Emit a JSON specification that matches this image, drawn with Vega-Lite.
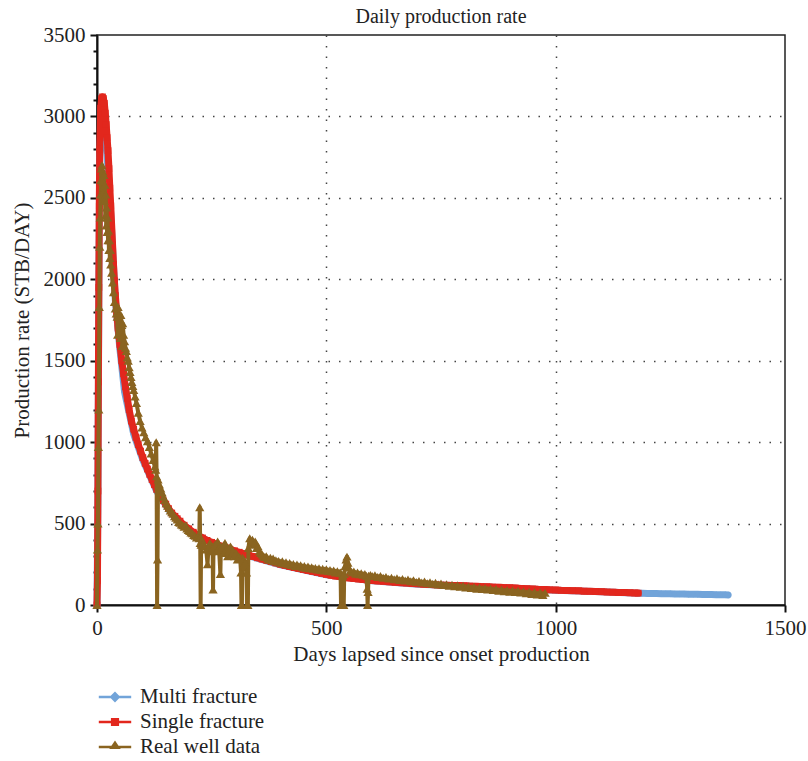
{
  "$schema": "https://vega.github.io/schema/vega-lite/v6.json",
  "width": 688,
  "height": 570,
  "autosize": {"type": "none"},
  "padding": {"left": 97, "top": 35, "right": 23, "bottom": 156},
  "title": {"text": "Daily production rate", "fontSize": 20, "fontWeight": "normal", "font": "Liberation Serif", "color": "#222", "offset": -3, "frame": "group"},
  "config": {
    "font": "Liberation Serif",
    "view": {"stroke": "#222", "strokeWidth": 1.5},
    "axis": {
      "domainColor": "#111", "domainWidth": 2,
      "tickColor": "#111", "tickWidth": 2,
      "labelFont": "Liberation Serif", "labelFontSize": 21, "labelColor": "#222",
      "titleFont": "Liberation Serif", "titleFontSize": 21, "titleFontWeight": "normal", "titleColor": "#222",
      "gridColor": "#444", "gridWidth": 1.5, "gridDash": [1.5, 9]
    }
  },
  "datasets": {
    "multi": [
      {"day": 0, "rate": 0}, {"day": 2, "rate": 650}, {"day": 4, "rate": 1900}, {"day": 6, "rate": 2750},
      {"day": 10, "rate": 3050}, {"day": 15, "rate": 3050}, {"day": 20, "rate": 2900}, {"day": 25, "rate": 2600},
      {"day": 30, "rate": 2400}, {"day": 40, "rate": 1870}, {"day": 50, "rate": 1570}, {"day": 60, "rate": 1310},
      {"day": 80, "rate": 1050}, {"day": 100, "rate": 890}, {"day": 130, "rate": 700}, {"day": 160, "rate": 570},
      {"day": 200, "rate": 460}, {"day": 250, "rate": 380}, {"day": 300, "rate": 328}, {"day": 400, "rate": 246},
      {"day": 500, "rate": 185}, {"day": 600, "rate": 149}, {"day": 700, "rate": 127}, {"day": 800, "rate": 116},
      {"day": 900, "rate": 104}, {"day": 1000, "rate": 91}, {"day": 1100, "rate": 81}, {"day": 1180, "rate": 72},
      {"day": 1190, "rate": 71.5}, {"day": 1200, "rate": 71}, {"day": 1210, "rate": 70.5}, {"day": 1220, "rate": 70},
      {"day": 1230, "rate": 69.5}, {"day": 1240, "rate": 69}, {"day": 1250, "rate": 68.5}, {"day": 1260, "rate": 68},
      {"day": 1270, "rate": 67.5}, {"day": 1280, "rate": 67}, {"day": 1290, "rate": 66.5}, {"day": 1300, "rate": 66},
      {"day": 1310, "rate": 65.5}, {"day": 1320, "rate": 65}, {"day": 1330, "rate": 64.5}, {"day": 1340, "rate": 64},
      {"day": 1350, "rate": 63.5}, {"day": 1360, "rate": 63}, {"day": 1370, "rate": 62.5}, {"day": 1376, "rate": 62}
    ],
    "single": [
      {"day": 0, "rate": 0}, {"day": 1, "rate": 150}, {"day": 2, "rate": 700}, {"day": 3, "rate": 1370},
      {"day": 4, "rate": 1950}, {"day": 5, "rate": 2450}, {"day": 6, "rate": 2800}, {"day": 8, "rate": 3050},
      {"day": 10, "rate": 3110}, {"day": 12, "rate": 3120}, {"day": 14, "rate": 3110}, {"day": 16, "rate": 3080},
      {"day": 18, "rate": 3020}, {"day": 20, "rate": 2950}, {"day": 22, "rate": 2870}, {"day": 24, "rate": 2790},
      {"day": 26, "rate": 2680}, {"day": 28, "rate": 2560}, {"day": 30, "rate": 2450}, {"day": 32, "rate": 2330},
      {"day": 34, "rate": 2210}, {"day": 36, "rate": 2090}, {"day": 38, "rate": 1990}, {"day": 40, "rate": 1900},
      {"day": 43, "rate": 1800}, {"day": 46, "rate": 1700}, {"day": 50, "rate": 1600}, {"day": 54, "rate": 1500},
      {"day": 58, "rate": 1420}, {"day": 62, "rate": 1340}, {"day": 66, "rate": 1270}, {"day": 70, "rate": 1200},
      {"day": 75, "rate": 1130}, {"day": 80, "rate": 1080}, {"day": 85, "rate": 1030}, {"day": 90, "rate": 985},
      {"day": 95, "rate": 945}, {"day": 100, "rate": 905}, {"day": 105, "rate": 870}, {"day": 110, "rate": 835},
      {"day": 115, "rate": 802}, {"day": 120, "rate": 770}, {"day": 125, "rate": 740}, {"day": 130, "rate": 710},
      {"day": 135, "rate": 684}, {"day": 140, "rate": 660}, {"day": 145, "rate": 640}, {"day": 150, "rate": 620},
      {"day": 156, "rate": 592}, {"day": 163, "rate": 565}, {"day": 170, "rate": 545}, {"day": 175, "rate": 530},
      {"day": 181, "rate": 515}, {"day": 190, "rate": 490}, {"day": 200, "rate": 468}, {"day": 210, "rate": 447},
      {"day": 220, "rate": 428}, {"day": 230, "rate": 412}, {"day": 240, "rate": 397}, {"day": 250, "rate": 385},
      {"day": 260, "rate": 373}, {"day": 270, "rate": 362}, {"day": 280, "rate": 352}, {"day": 290, "rate": 342},
      {"day": 300, "rate": 333}, {"day": 310, "rate": 324}, {"day": 320, "rate": 315}, {"day": 330, "rate": 306},
      {"day": 340, "rate": 298}, {"day": 350, "rate": 290}, {"day": 360, "rate": 282}, {"day": 370, "rate": 274},
      {"day": 380, "rate": 266}, {"day": 390, "rate": 258}, {"day": 400, "rate": 250}, {"day": 410, "rate": 243},
      {"day": 420, "rate": 236}, {"day": 430, "rate": 230}, {"day": 440, "rate": 224}, {"day": 450, "rate": 218},
      {"day": 460, "rate": 212}, {"day": 470, "rate": 206}, {"day": 480, "rate": 200}, {"day": 490, "rate": 194},
      {"day": 500, "rate": 188}, {"day": 510, "rate": 183}, {"day": 520, "rate": 178}, {"day": 530, "rate": 174},
      {"day": 540, "rate": 170}, {"day": 550, "rate": 166}, {"day": 560, "rate": 163}, {"day": 570, "rate": 160},
      {"day": 580, "rate": 157}, {"day": 590, "rate": 154}, {"day": 600, "rate": 151}, {"day": 612, "rate": 148},
      {"day": 625, "rate": 145}, {"day": 637, "rate": 142}, {"day": 650, "rate": 139}, {"day": 662, "rate": 137},
      {"day": 675, "rate": 135}, {"day": 687, "rate": 132}, {"day": 700, "rate": 130}, {"day": 712, "rate": 128},
      {"day": 725, "rate": 126}, {"day": 737, "rate": 124}, {"day": 750, "rate": 122}, {"day": 762, "rate": 121},
      {"day": 775, "rate": 120}, {"day": 787, "rate": 119}, {"day": 800, "rate": 118}, {"day": 812, "rate": 116},
      {"day": 825, "rate": 115}, {"day": 837, "rate": 113}, {"day": 850, "rate": 112}, {"day": 862, "rate": 110},
      {"day": 875, "rate": 109}, {"day": 887, "rate": 107}, {"day": 900, "rate": 106}, {"day": 912, "rate": 104},
      {"day": 925, "rate": 102}, {"day": 937, "rate": 100}, {"day": 950, "rate": 98}, {"day": 962, "rate": 96},
      {"day": 975, "rate": 95}, {"day": 987, "rate": 93}, {"day": 1000, "rate": 92}, {"day": 1012, "rate": 90},
      {"day": 1025, "rate": 89}, {"day": 1037, "rate": 88}, {"day": 1050, "rate": 87}, {"day": 1062, "rate": 85},
      {"day": 1075, "rate": 84}, {"day": 1087, "rate": 83}, {"day": 1100, "rate": 82}, {"day": 1112, "rate": 80},
      {"day": 1125, "rate": 79}, {"day": 1137, "rate": 77}, {"day": 1150, "rate": 76}, {"day": 1162, "rate": 75},
      {"day": 1172, "rate": 74}, {"day": 1180, "rate": 73}
    ],
    "well": [
      {"day": 0, "rate": 0}, {"day": 1, "rate": 340}, {"day": 2, "rate": 500}, {"day": 3, "rate": 970},
      {"day": 4, "rate": 1200}, {"day": 5, "rate": 1830}, {"day": 6, "rate": 2200}, {"day": 7, "rate": 2380},
      {"day": 8, "rate": 2520}, {"day": 9, "rate": 2610}, {"day": 10, "rate": 2680}, {"day": 11, "rate": 2700},
      {"day": 12, "rate": 2600}, {"day": 13, "rate": 2660}, {"day": 14, "rate": 2540}, {"day": 15, "rate": 2640},
      {"day": 16, "rate": 2480}, {"day": 17, "rate": 2580}, {"day": 18, "rate": 2390}, {"day": 19, "rate": 2520},
      {"day": 20, "rate": 2330}, {"day": 21, "rate": 2440}, {"day": 22, "rate": 2290}, {"day": 23, "rate": 2380},
      {"day": 24, "rate": 2240}, {"day": 25, "rate": 2300}, {"day": 26, "rate": 2180}, {"day": 27, "rate": 2240},
      {"day": 28, "rate": 2130}, {"day": 29, "rate": 2180}, {"day": 30, "rate": 2090}, {"day": 32, "rate": 2040},
      {"day": 34, "rate": 1980}, {"day": 36, "rate": 1920}, {"day": 38, "rate": 1860}, {"day": 40, "rate": 1820},
      {"day": 42, "rate": 1790}, {"day": 44, "rate": 1770}, {"day": 45, "rate": 1660}, {"day": 46, "rate": 1830},
      {"day": 48, "rate": 1780}, {"day": 50, "rate": 1740}, {"day": 51, "rate": 1640}, {"day": 52, "rate": 1780},
      {"day": 54, "rate": 1720}, {"day": 55, "rate": 1590}, {"day": 56, "rate": 1730}, {"day": 58, "rate": 1660},
      {"day": 60, "rate": 1620}, {"day": 62, "rate": 1580}, {"day": 64, "rate": 1560}, {"day": 66, "rate": 1520},
      {"day": 68, "rate": 1500}, {"day": 70, "rate": 1460}, {"day": 72, "rate": 1430}, {"day": 74, "rate": 1400},
      {"day": 76, "rate": 1370}, {"day": 78, "rate": 1345}, {"day": 80, "rate": 1320}, {"day": 83, "rate": 1280},
      {"day": 86, "rate": 1240}, {"day": 90, "rate": 1180}, {"day": 94, "rate": 1130}, {"day": 98, "rate": 1090},
      {"day": 102, "rate": 1060}, {"day": 106, "rate": 1030}, {"day": 110, "rate": 1005}, {"day": 114, "rate": 970},
      {"day": 118, "rate": 930}, {"day": 122, "rate": 890}, {"day": 126, "rate": 850}, {"day": 128, "rate": 830},
      {"day": 129, "rate": 1000}, {"day": 130, "rate": 790}, {"day": 131, "rate": 0}, {"day": 132, "rate": 280},
      {"day": 133, "rate": 770}, {"day": 136, "rate": 740}, {"day": 139, "rate": 715}, {"day": 142, "rate": 690},
      {"day": 145, "rate": 665}, {"day": 148, "rate": 645}, {"day": 151, "rate": 625}, {"day": 154, "rate": 610},
      {"day": 157, "rate": 595}, {"day": 160, "rate": 580}, {"day": 163, "rate": 570}, {"day": 166, "rate": 560},
      {"day": 169, "rate": 545}, {"day": 172, "rate": 535}, {"day": 175, "rate": 525}, {"day": 178, "rate": 510},
      {"day": 181, "rate": 505}, {"day": 184, "rate": 495}, {"day": 187, "rate": 490}, {"day": 190, "rate": 480},
      {"day": 193, "rate": 490}, {"day": 196, "rate": 470}, {"day": 199, "rate": 460}, {"day": 202, "rate": 455},
      {"day": 205, "rate": 445}, {"day": 208, "rate": 440}, {"day": 211, "rate": 430}, {"day": 214, "rate": 425},
      {"day": 217, "rate": 415}, {"day": 220, "rate": 420}, {"day": 223, "rate": 410}, {"day": 224, "rate": 600},
      {"day": 225, "rate": 380}, {"day": 226, "rate": 0}, {"day": 227, "rate": 370}, {"day": 229, "rate": 400},
      {"day": 232, "rate": 380}, {"day": 235, "rate": 360}, {"day": 238, "rate": 340}, {"day": 241, "rate": 250},
      {"day": 243, "rate": 350}, {"day": 246, "rate": 380}, {"day": 249, "rate": 330}, {"day": 252, "rate": 360},
      {"day": 253, "rate": 95}, {"day": 254, "rate": 340}, {"day": 257, "rate": 370}, {"day": 260, "rate": 330},
      {"day": 263, "rate": 390}, {"day": 266, "rate": 350}, {"day": 269, "rate": 190}, {"day": 270, "rate": 340},
      {"day": 273, "rate": 360}, {"day": 276, "rate": 320}, {"day": 279, "rate": 380}, {"day": 282, "rate": 340},
      {"day": 285, "rate": 300}, {"day": 288, "rate": 330}, {"day": 291, "rate": 360}, {"day": 294, "rate": 310},
      {"day": 297, "rate": 330}, {"day": 300, "rate": 300}, {"day": 303, "rate": 320}, {"day": 306, "rate": 280},
      {"day": 309, "rate": 300}, {"day": 312, "rate": 290}, {"day": 314, "rate": 200}, {"day": 315, "rate": 0},
      {"day": 316, "rate": 0}, {"day": 317, "rate": 290}, {"day": 320, "rate": 280}, {"day": 323, "rate": 260},
      {"day": 326, "rate": 200}, {"day": 327, "rate": 0}, {"day": 329, "rate": 0}, {"day": 330, "rate": 350},
      {"day": 333, "rate": 410}, {"day": 336, "rate": 380}, {"day": 339, "rate": 400}, {"day": 342, "rate": 370},
      {"day": 345, "rate": 390}, {"day": 348, "rate": 350}, {"day": 351, "rate": 360}, {"day": 354, "rate": 330},
      {"day": 357, "rate": 320}, {"day": 360, "rate": 310}, {"day": 363, "rate": 300}, {"day": 366, "rate": 295},
      {"day": 369, "rate": 300}, {"day": 372, "rate": 285}, {"day": 375, "rate": 280}, {"day": 378, "rate": 290},
      {"day": 381, "rate": 275}, {"day": 384, "rate": 285}, {"day": 387, "rate": 270}, {"day": 390, "rate": 275},
      {"day": 393, "rate": 265}, {"day": 396, "rate": 270}, {"day": 400, "rate": 260}, {"day": 404, "rate": 268},
      {"day": 408, "rate": 255}, {"day": 412, "rate": 262}, {"day": 416, "rate": 250}, {"day": 420, "rate": 258},
      {"day": 424, "rate": 245}, {"day": 428, "rate": 252}, {"day": 432, "rate": 240}, {"day": 436, "rate": 248},
      {"day": 440, "rate": 238}, {"day": 444, "rate": 244}, {"day": 448, "rate": 232}, {"day": 452, "rate": 240},
      {"day": 456, "rate": 228}, {"day": 460, "rate": 236}, {"day": 464, "rate": 225}, {"day": 468, "rate": 232},
      {"day": 472, "rate": 222}, {"day": 476, "rate": 228}, {"day": 480, "rate": 218}, {"day": 484, "rate": 226},
      {"day": 488, "rate": 215}, {"day": 492, "rate": 222}, {"day": 496, "rate": 212}, {"day": 500, "rate": 220},
      {"day": 504, "rate": 208}, {"day": 508, "rate": 215}, {"day": 512, "rate": 205}, {"day": 516, "rate": 212},
      {"day": 520, "rate": 200}, {"day": 524, "rate": 208}, {"day": 528, "rate": 198}, {"day": 531, "rate": 200},
      {"day": 532, "rate": 0}, {"day": 534, "rate": 0}, {"day": 536, "rate": 180}, {"day": 538, "rate": 0},
      {"day": 539, "rate": 190}, {"day": 541, "rate": 240}, {"day": 543, "rate": 280}, {"day": 545, "rate": 297},
      {"day": 547, "rate": 260}, {"day": 549, "rate": 230}, {"day": 552, "rate": 210}, {"day": 556, "rate": 200},
      {"day": 560, "rate": 205}, {"day": 564, "rate": 192}, {"day": 568, "rate": 200}, {"day": 572, "rate": 188},
      {"day": 576, "rate": 195}, {"day": 580, "rate": 185}, {"day": 584, "rate": 190}, {"day": 587, "rate": 180},
      {"day": 589, "rate": 100}, {"day": 590, "rate": 0}, {"day": 591, "rate": 80}, {"day": 592, "rate": 180},
      {"day": 596, "rate": 185}, {"day": 600, "rate": 178}, {"day": 606, "rate": 182}, {"day": 612, "rate": 172},
      {"day": 618, "rate": 178}, {"day": 624, "rate": 168}, {"day": 630, "rate": 172}, {"day": 636, "rate": 162},
      {"day": 642, "rate": 168}, {"day": 648, "rate": 158}, {"day": 654, "rate": 164}, {"day": 660, "rate": 154},
      {"day": 666, "rate": 160}, {"day": 672, "rate": 150}, {"day": 678, "rate": 156}, {"day": 684, "rate": 146},
      {"day": 690, "rate": 152}, {"day": 696, "rate": 142}, {"day": 702, "rate": 148}, {"day": 708, "rate": 138},
      {"day": 714, "rate": 144}, {"day": 720, "rate": 134}, {"day": 726, "rate": 140}, {"day": 732, "rate": 130},
      {"day": 738, "rate": 136}, {"day": 744, "rate": 126}, {"day": 750, "rate": 132}, {"day": 756, "rate": 122},
      {"day": 762, "rate": 128}, {"day": 768, "rate": 118}, {"day": 774, "rate": 125}, {"day": 780, "rate": 115},
      {"day": 786, "rate": 121}, {"day": 792, "rate": 112}, {"day": 798, "rate": 118}, {"day": 804, "rate": 108},
      {"day": 810, "rate": 114}, {"day": 816, "rate": 105}, {"day": 822, "rate": 111}, {"day": 828, "rate": 100},
      {"day": 834, "rate": 108}, {"day": 840, "rate": 98}, {"day": 846, "rate": 104}, {"day": 852, "rate": 95},
      {"day": 858, "rate": 101}, {"day": 864, "rate": 92}, {"day": 870, "rate": 98}, {"day": 876, "rate": 88},
      {"day": 882, "rate": 95}, {"day": 888, "rate": 85}, {"day": 894, "rate": 92}, {"day": 900, "rate": 82},
      {"day": 906, "rate": 90}, {"day": 912, "rate": 80}, {"day": 918, "rate": 88}, {"day": 924, "rate": 76},
      {"day": 930, "rate": 84}, {"day": 936, "rate": 72}, {"day": 942, "rate": 82}, {"day": 948, "rate": 68},
      {"day": 954, "rate": 80}, {"day": 960, "rate": 65}, {"day": 966, "rate": 78}, {"day": 972, "rate": 62},
      {"day": 977, "rate": 75}
    ]
  },
  "encoding": {
    "x": {
      "field": "day", "type": "quantitative",
      "scale": {"domain": [0, 1500], "nice": false, "zero": false},
      "axis": {
        "title": "Days lapsed since onset production", "values": [0, 500, 1000, 1500], "format": "d",
        "tickSize": 7, "labelPadding": 5, "titlePadding": 5, "labelFlush": false,
        "grid": true,
        "gridOpacity": {"condition": {"test": "datum.value > 0 && datum.value < 1500", "value": 1}, "value": 0}
      }
    },
    "y": {
      "field": "rate", "type": "quantitative",
      "scale": {"domain": [0, 3500], "nice": false},
      "axis": {
        "title": "Production rate (STB/DAY)", "format": "d",
        "values": [0, 100, 200, 300, 400, 500, 600, 700, 800, 900, 1000, 1100, 1200, 1300, 1400, 1500, 1600, 1700, 1800, 1900, 2000, 2100, 2200, 2300, 2400, 2500, 2600, 2700, 2800, 2900, 3000, 3100, 3200, 3300, 3400, 3500],
        "labelExpr": "datum.value % 500 === 0 ? datum.label : ''",
        "labelOverlap": false, "labelFlush": false,
        "tickSize": {"condition": {"test": "datum.value % 500 === 0", "value": 7}, "value": 4},
        "labelPadding": 5, "titlePadding": 11,
        "grid": true,
        "gridOpacity": {"condition": {"test": "datum.value % 500 === 0 && datum.value > 0 && datum.value < 3500", "value": 1}, "value": 0}
      }
    }
  },
  "layer": [
    {
      "data": {"name": "multi"},
      "mark": {"type": "line", "strokeWidth": 7, "strokeCap": "round", "strokeJoin": "round"},
      "encoding": {
        "color": {
          "datum": "Multi fracture",
          "scale": {"domain": ["Multi fracture", "Single fracture", "Real well data"], "range": ["#72a4d9", "#e2271d", "#8a6420"]},
          "legend": {
            "title": null, "orient": "none", "legendX": 3, "legendY": 647, "direction": "vertical",
            "padding": 0, "rowPadding": 0, "symbolSize": 729, "labelOffset": 10,
            "labelFont": "Liberation Serif", "labelFontSize": 21, "labelColor": "#222",
            "encode": {
              "symbols": {
                "update": {
                  "shape": {"signal": "datum.value === 'Multi fracture' ? 'M-1.2,0H1.2M-0.27,0L0,-0.27L0.27,0L0,0.27Z' : datum.value === 'Single fracture' ? 'M-1.2,0H1.2M-0.21,-0.21H0.21V0.21H-0.21Z' : 'M-1.2,0H1.2M-0.25,0.06L0,-0.32L0.25,0.06Z'"},
                  "fill": {"scale": "color", "field": "value"},
                  "stroke": {"scale": "color", "field": "value"},
                  "strokeWidth": {"value": 2.5},
                  "opacity": {"value": 1}
                }
              }
            }
          }
        }
      }
    },
    {
      "data": {"name": "multi"},
      "mark": {"type": "point", "shape": "diamond", "filled": true, "size": 45, "opacity": 1},
      "encoding": {"color": {"datum": "Multi fracture"}}
    },
    {
      "data": {"name": "single"},
      "mark": {"type": "line", "strokeWidth": 7, "strokeCap": "round", "strokeJoin": "round"},
      "encoding": {"color": {"datum": "Single fracture"}}
    },
    {
      "data": {"name": "single"},
      "mark": {"type": "point", "shape": "square", "filled": true, "size": 45, "opacity": 1},
      "encoding": {"color": {"datum": "Single fracture"}}
    },
    {
      "data": {"name": "well"},
      "mark": {"type": "line", "strokeWidth": 4, "strokeJoin": "round"},
      "encoding": {"color": {"datum": "Real well data"}}
    },
    {
      "data": {"name": "well"},
      "mark": {"type": "point", "shape": "triangle-up", "filled": true, "size": 85, "opacity": 1},
      "encoding": {"color": {"datum": "Real well data"}}
    }
  ]
}
